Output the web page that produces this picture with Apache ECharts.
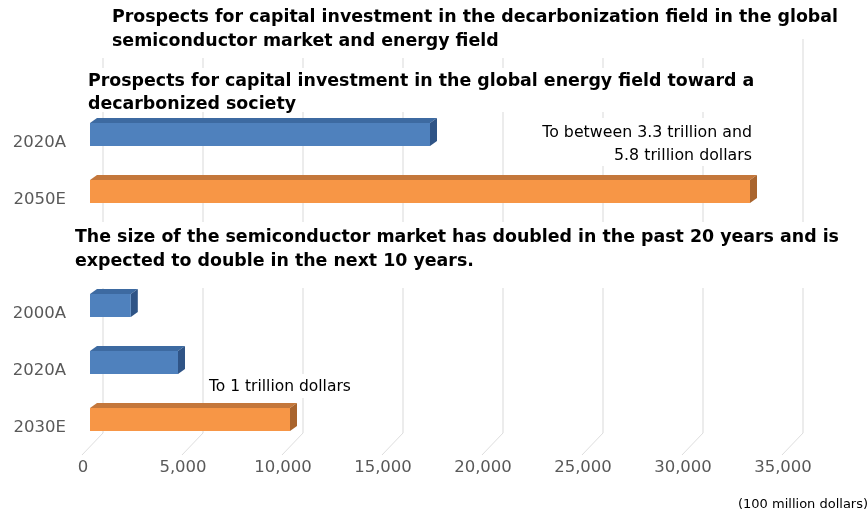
<!DOCTYPE html>
<html>
<head>
<meta charset="utf-8">
<script src="https://cdn.jsdelivr.net/npm/echarts@6/dist/echarts.min.js"></script>
<style>
html,body{margin:0;padding:0;background:#fff;}
#chart{width:868px;height:515px;}
</style>
</head>
<body>
<div id="chart"></div>
<script>
// ---- data ----
const categories = ['', '2020A', '2050E', '', '2000A', '2020A', '2030E'];
const actualValues = [null, 17000, null, null, 2040, 4400, null];     // blue bars
const forecastValues = [null, null, 33000, null, null, null, 10000];  // orange bars
const xTicks = [0, 5000, 10000, 15000, 20000, 25000, 30000, 35000];
const titleMain = ['Prospects for capital investment in the decarbonization field in the global', 'semiconductor market and energy field'];
const titleEnergy = ['Prospects for capital investment in the global energy field toward a', 'decarbonized society'];
const titleSemi = ['The size of the semiconductor market has doubled in the past 20 years and is', 'expected to double in the next 10 years.'];
const noteEnergy = ['To between 3.3 trillion and', '5.8 trillion dollars'];
const noteSemi = 'To 1 trillion dollars';
const unitLabel = '(100 million dollars)';

const FONT = '"DejaVu Sans", sans-serif';
const FRONT_DX = -13, FRONT_DY = 10;   // front plane offset from back wall
const DEPTH_X = 7, DEPTH_Y = -5;

function toPairs(arr) {
  const out = [];
  arr.forEach((v, i) => { if (v != null) out.push([v, i]); });
  return out;
}

function barRenderer(front, top, side) {
  return function (params, api) {
    const v = api.value(0), idx = api.value(1);
    const p0 = api.coord([0, idx]);
    const p1 = api.coord([v, idx]);
    const band = api.size([0, 1])[1];
    const h = band * 0.40;
    const x0 = p0[0] + FRONT_DX, x1 = p1[0] + FRONT_DX;
    const yc = p0[1] + FRONT_DY;
    const yt = yc - h / 2, yb = yc + h / 2;
    return {
      type: 'group',
      children: [
        { type: 'polygon', shape: { points: [[x0, yt], [x1, yt], [x1 + DEPTH_X, yt + DEPTH_Y], [x0 + DEPTH_X, yt + DEPTH_Y]] }, style: { fill: top } },
        { type: 'polygon', shape: { points: [[x1, yt], [x1 + DEPTH_X, yt + DEPTH_Y], [x1 + DEPTH_X, yb + DEPTH_Y], [x1, yb]] }, style: { fill: side } },
        { type: 'rect', shape: { x: x0, y: yt, width: x1 - x0, height: h }, style: { fill: front } }
      ]
    };
  };
}

function gridRenderer(params, api) {
  const v = api.value(0);
  const x = api.coord([v, 0])[0];
  const cs = params.coordSys;
  const top = cs.y, bottom = cs.y + cs.height - 5;
  return {
    type: 'group',
    children: [
      { type: 'line', shape: { x1: x, y1: top, x2: x, y2: bottom }, style: { stroke: '#D9D9D9', lineWidth: 1 } },
      { type: 'line', shape: { x1: x, y1: bottom, x2: x - 21, y2: bottom + 22 }, style: { stroke: '#DEDEDE', lineWidth: 1 } }
    ]
  };
}

function box(x, y, w, h) {
  return { type: 'rect', z: 100, shape: { x: x, y: y, width: w, height: h }, style: { fill: '#ffffff' } };
}
function txt(x, y, lines, size, weight, align, lh) {
  return {
    type: 'text', z: 101, x: x, y: y,
    style: {
      text: Array.isArray(lines) ? lines.join('\n') : lines,
      font: weight + ' ' + size + 'px ' + FONT,
      fill: '#000000', align: align, verticalAlign: 'top', lineHeight: lh
    }
  };
}

const chart = echarts.init(document.getElementById('chart'));
chart.setOption({
  animation: false,
  backgroundColor: '#ffffff',
  grid: { left: 103, right: 65, top: 39, height: 399 },
  xAxis: {
    type: 'value', min: 0, max: 35000, interval: 5000,
    axisLine: { show: false }, axisTick: { show: false }, splitLine: { show: false },
    axisLabel: {
      color: '#595959', fontSize: 16.5, fontFamily: FONT, margin: 21,
      padding: [0, 40, 0, 0],
      formatter: v => v.toLocaleString('en-US')
    }
  },
  yAxis: {
    type: 'category', inverse: true, data: categories,
    axisLine: { show: false }, axisTick: { show: false }, splitLine: { show: false },
    axisLabel: {
      color: '#595959', fontSize: 16.5, fontFamily: FONT, margin: 37, lineHeight: 36,
      interval: 0, hideOverlap: false,
      formatter: v => '\n' + v
    }
  },
  series: [
    { type: 'custom', z: 1, renderItem: gridRenderer, data: xTicks.map(v => [v, 0]), silent: true },
    { type: 'custom', z: 3, renderItem: barRenderer('#4F81BD', '#3D6AA1', '#2F5486'), data: toPairs(actualValues) },
    { type: 'custom', z: 3, renderItem: barRenderer('#F79646', '#C4773B', '#A9642D'), data: toPairs(forecastValues) }
  ],
  graphic: [
    box(95, 0, 695, 58), txt(112, 5, titleMain, 17.4, 'bold', 'left', 24),
    box(85, 68, 680, 44), txt(88, 70, titleEnergy, 17.4, 'bold', 'left', 23),
    box(535, 118, 225, 48), txt(752, 121, noteEnergy, 15.8, 'normal', 'right', 23),
    box(70, 222, 790, 66), txt(75, 225, titleSemi, 17.4, 'bold', 'left', 24),
    box(205, 374, 155, 24), txt(209, 377, noteSemi, 15.5, 'normal', 'left', 20),
    { type: 'text', z: 101, x: 738, y: 498, style: { text: unitLabel, font: 'normal 13px ' + FONT, fill: '#000000', align: 'left', verticalAlign: 'top' } }
  ]
});
</script>
</body>
</html>
